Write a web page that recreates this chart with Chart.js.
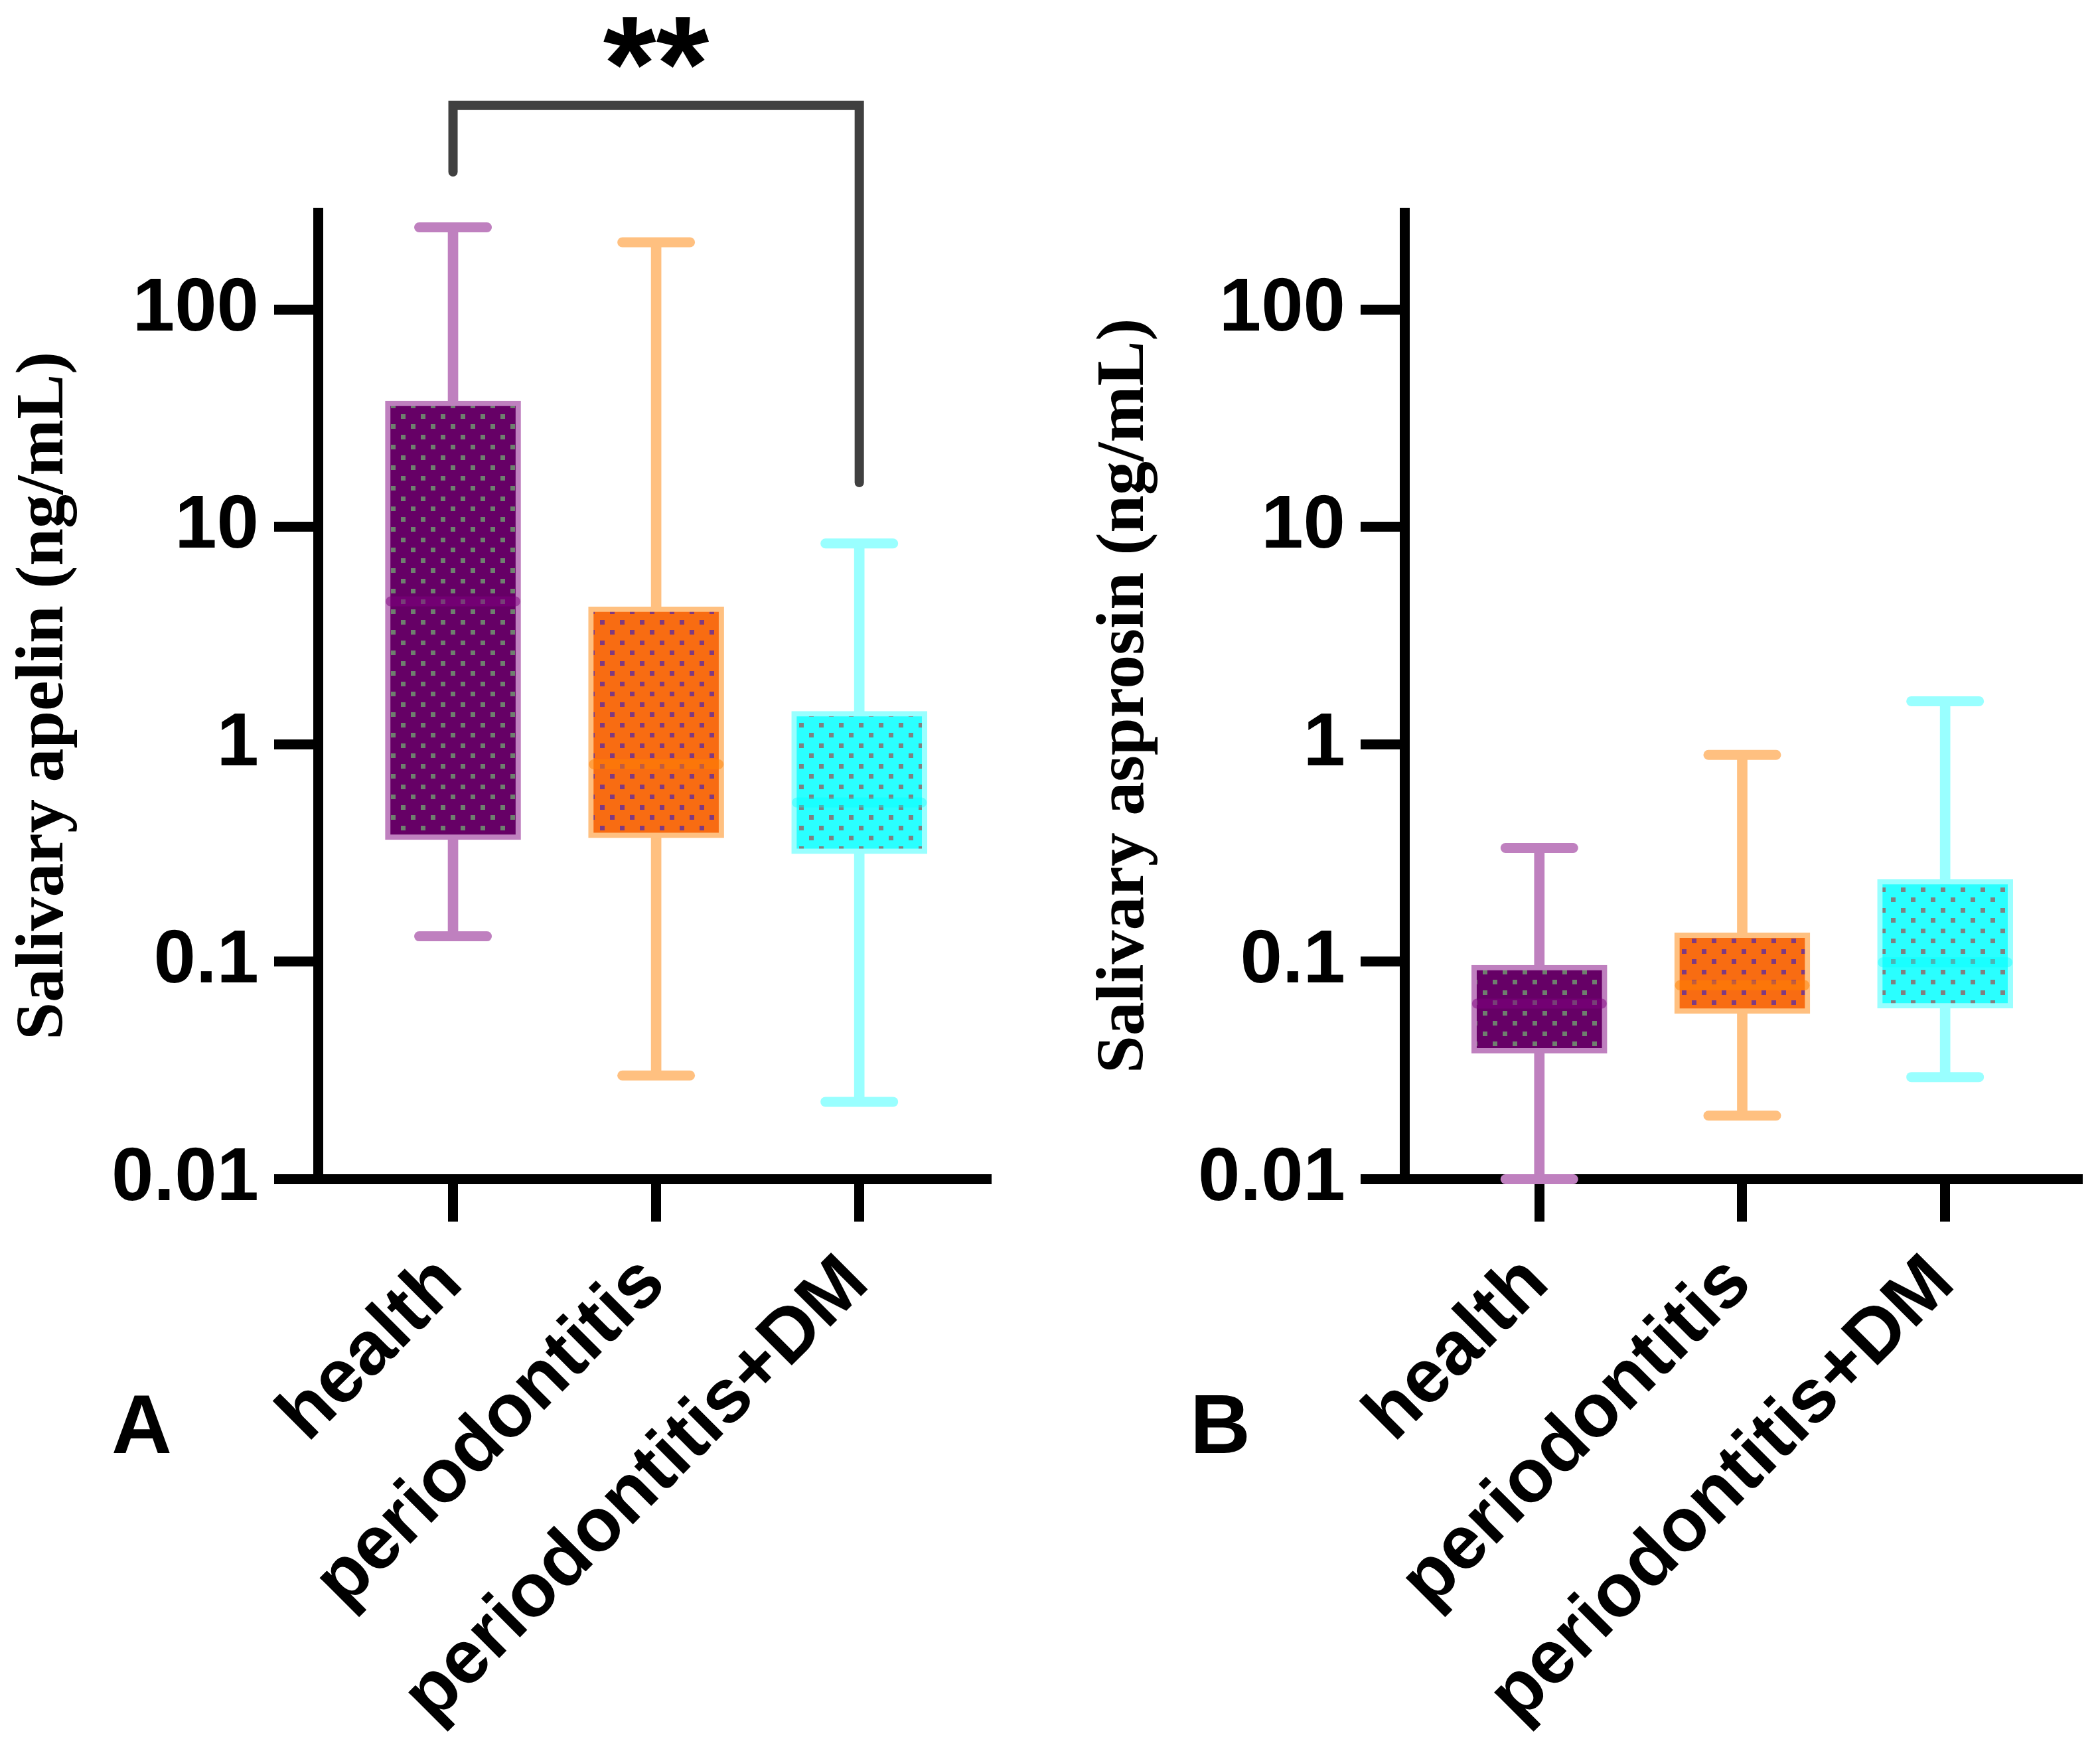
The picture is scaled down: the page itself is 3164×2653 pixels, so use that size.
<!DOCTYPE html>
<html>
<head>
<meta charset="utf-8">
<script src="https://cdn.jsdelivr.net/npm/chart.js@4.4.1/dist/chart.umd.min.js"></script>
<style>
  html, body { margin: 0; padding: 0; background: #fff; }
  body { width: 3164px; height: 2653px; position: relative; overflow: hidden; }
  canvas { position: absolute; top: 0; }
  #chartA { left: 0; }
  #chartB { left: 1600px; }
  .panel { position: absolute; top: 2083px; font: bold 126px/1 'Liberation Sans', Arial, sans-serif; color: #000; }
</style>
</head>
<body>
<canvas id="chartA" width="1560" height="2653"></canvas>
<canvas id="chartB" width="1564" height="2653"></canvas>
<div class="panel" style="left:168px">A</div>
<div class="panel" style="left:1793px">B</div>
<script>
const groups = ['health', 'periodontitis', 'periodontitis+DM'];

// salivary apelin (ng/mL), panel A
const apelinMin    = [0.131, 0.030, 0.0227];
const apelinQ1     = [0.365, 0.372, 0.314];
const apelinMedian = [4.55, 0.81, 0.54];
const apelinQ3     = [38, 4.3, 1.42];
const apelinMax    = [239, 204, 8.4];

// salivary asprosin (ng/mL), panel B
const asprosinMin    = [0.01, 0.0196, 0.0295];
const asprosinQ1     = [0.038, 0.0578, 0.0612];
const asprosinMedian = [0.0642, 0.078, 0.0995];
const asprosinQ3     = [0.0965, 0.136, 0.24];
const asprosinMax    = [0.334, 0.895, 1.58];

const yTicks = [0.01, 0.1, 1, 10, 100];

// health vs periodontitis+DM
const sigPair = [0, 2];
const sigLevels = [430, 870, 16]; // left foot, top, right foot
const sigText = '**';

const fillColors   = ['#660066', '#f86c12', '#2affff'];
const dotColors    = ['#6e806e', '#7f3a82', '#808080'];
const lineColors   = ['#bf80bf', '#ffc080', '#99ffff'];
const medianColors = ['rgba(128,0,128,0.5)', 'rgba(255,128,0,0.5)', 'rgba(0,255,255,0.4)'];

const sans = "'Liberation Sans', Arial, sans-serif";
const serif = "'Liberation Serif', 'Times New Roman', serif";

function dotted(ctx, fill, dot) {
  const tile = document.createElement('canvas');
  tile.width = 30; tile.height = 31;
  const g = tile.getContext('2d');
  g.fillStyle = fill; g.fillRect(0, 0, 30, 31);
  g.fillStyle = dot;
  g.fillRect(4, 4, 7, 7);
  g.fillRect(19, 19, 7, 7);
  return ctx.createPattern(tile, 'repeat');
}

const pts = arr => arr.map((v, i) => ({x: i, y: v}));
const spans = (lo, hi) => lo.map((v, i) => ({x: i, y: [v, hi[i]]}));

// round line ends for the cap / median strokes
const roundCaps = {
  id: 'roundCaps',
  beforeDatasetsDraw(chart) { chart.ctx.save(); chart.ctx.lineCap = 'round'; },
  afterDatasetsDraw(chart) { chart.ctx.restore(); }
};

const sigLabel = {
  id: 'sigLabel',
  afterDatasetsDraw(chart, args, opts) {
    if (!opts.text) return;
    const {ctx, scales: {x, y}} = chart;
    ctx.save();
    ctx.font = 'bold 205px ' + sans;
    ctx.textAlign = 'center';
    ctx.textBaseline = 'alphabetic';
    ctx.fillStyle = '#000';
    const cx = (x.getPixelForValue(opts.from) + x.getPixelForValue(opts.to)) / 2;
    ctx.fillText(opts.text, cx, y.getPixelForValue(opts.level) + opts.dy);
    ctx.restore();
  }
};

function boxChart(id, title, mins, q1, med, q3, maxs, cfg) {
  const canvas = document.getElementById(id);
  const ctx = canvas.getContext('2d');
  const patterns = fillColors.map((c, i) => dotted(ctx, c, dotColors[i]));

  const datasets = [
    {type: 'bar', data: spans(mins, maxs), backgroundColor: lineColors,
     barThickness: 15, borderRadius: 8, borderSkipped: false, grouped: false, order: 3},
    {type: 'bar', data: spans(q1, q3), backgroundColor: patterns, borderColor: lineColors,
     borderWidth: 8, borderSkipped: false, barThickness: 204, grouped: false, order: 2},
    {type: 'scatter', data: pts(maxs).concat(pts(mins)), pointStyle: 'line', pointRadius: 51,
     pointBorderWidth: 15, pointBorderColor: lineColors.concat(lineColors), clip: false, order: 1},
    {type: 'scatter', data: pts(med), pointStyle: 'line', pointRadius: 94,
     pointBorderWidth: 15, pointBorderColor: medianColors, order: 0}
  ];
  if (cfg.sig) {
    datasets.push({
      type: 'line',
      data: [
        {x: sigPair[0], y: sigLevels[0]}, {x: sigPair[0], y: sigLevels[1]},
        {x: sigPair[1], y: sigLevels[1]}, {x: sigPair[1], y: sigLevels[2]}
      ],
      borderColor: '#404040', borderWidth: 14, pointRadius: 0, tension: 0,
      borderCapStyle: 'round', borderJoinStyle: 'miter', clip: false, order: 0
    });
  }

  return new Chart(canvas, {
    type: 'bar',
    data: {datasets},
    options: {
      responsive: false,
      devicePixelRatio: 1,
      animation: false,
      events: [],
      layout: {autoPadding: false, padding: {top: 320, left: cfg.padLeft, right: cfg.padRight, bottom: 0}},
      plugins: {
        legend: {display: false},
        tooltip: {enabled: false},
        sigLabel: cfg.sig ? {text: sigText, from: sigPair[0], to: sigPair[1], level: sigLevels[1], dy: 8} : {text: ''}
      },
      scales: {
        x: {
          type: 'linear', min: -0.665, max: cfg.xMax, offset: false,
          afterBuildTicks: s => { s.ticks = groups.map((g, i) => ({value: i})); },
          afterFit: s => { s.height = 876.5; s.paddingLeft = 0; s.paddingRight = 0; },
          grid: {display: true, offset: false, drawOnChartArea: false, drawTicks: true, tickLength: 64, tickWidth: 15, tickColor: '#000'},
          border: {display: true, width: 15, color: '#000'},
          ticks: {
            autoSkip: false, minRotation: 45, maxRotation: 45, padding: 26, labelOffset: -4,
            color: '#000', font: {family: sans, weight: 'bold', size: 114},
            callback: v => groups[v]
          }
        },
        y: {
          type: 'logarithmic', min: 0.01, max: 280,
          afterBuildTicks: s => { s.ticks = yTicks.map(v => ({value: v})); },
          afterFit: s => { s.width = cfg.yWidth; },
          grid: {display: true, drawOnChartArea: false, drawTicks: true, tickLength: 66, tickWidth: 15, tickColor: '#000'},
          border: {display: true, width: 15, color: '#000'},
          ticks: {padding: 23, color: '#000', font: {family: sans, weight: 'bold', size: 114}, callback: v => String(v)},
          title: {display: true, text: title, color: '#000', font: {family: serif, weight: 'bold', size: 102}, padding: {top: 6, bottom: 0}}
        }
      }
    },
    plugins: [roundCaps, sigLabel]
  });
}

boxChart('chartA', 'Salivary apelin (ng/mL)', apelinMin, apelinQ1, apelinMedian, apelinQ3, apelinMax,
  {padLeft: 0, padRight: 67, yWidth: 479, xMax: 2.648, sig: true});
boxChart('chartB', 'Salivary asprosin (ng/mL)', asprosinMin, asprosinQ1, asprosinMedian, asprosinQ3, asprosinMax,
  {padLeft: 28, padRight: 27, yWidth: 488, xMax: 2.675, sig: false});
</script>
</body>
</html>
